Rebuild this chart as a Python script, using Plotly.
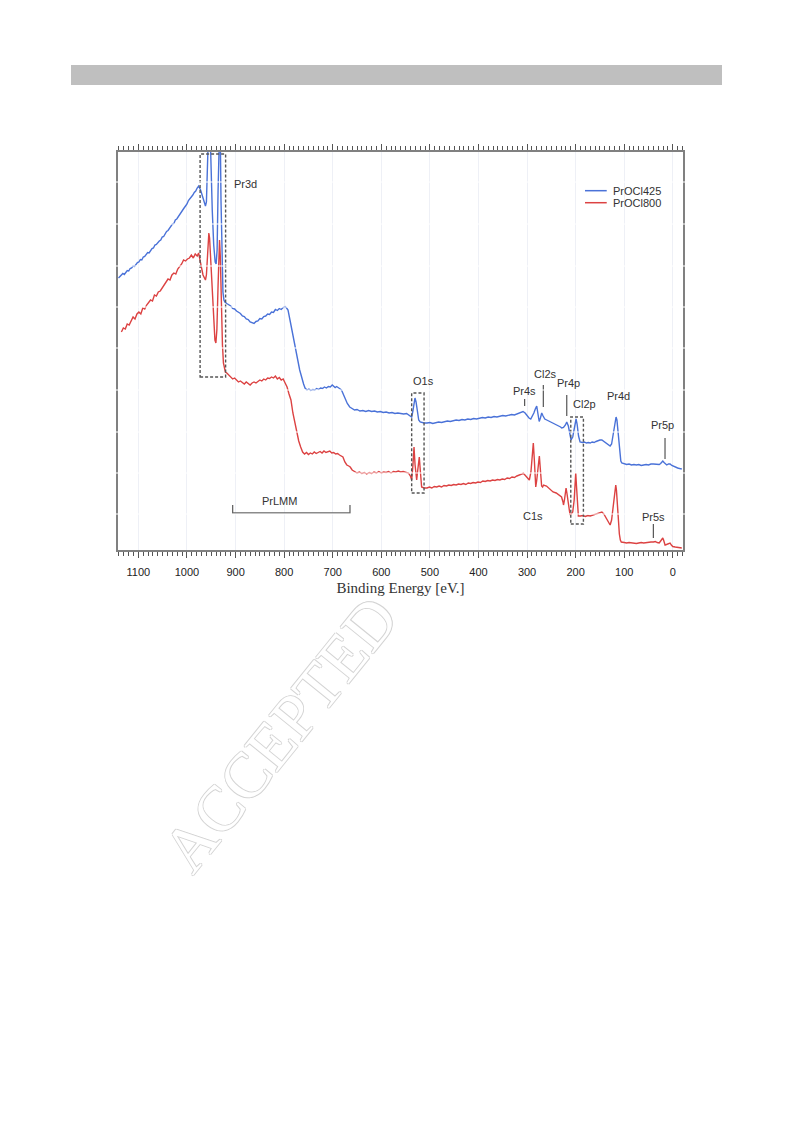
import plotly.graph_objects as go

# XPS survey spectra of the two PrOCl samples (binding energy in eV, intensity in arbitrary units)
be_425 = [1141, 1138, 1135, 1132, 1129, 1126, 1123, 1120, 1117, 1114, 1111, 1108, 1105, 1102, 1099,
          1096, 1093, 1090, 1087, 1084, 1081, 1078, 1075, 1072, 1069, 1066, 1063, 1060, 1057, 1054,
          1051, 1048, 1045, 1042, 1039, 1036, 1033, 1030, 1027, 1024, 1021, 1018, 1015, 1012, 1009,
          1006, 1003, 1000, 997, 994, 991, 988, 985, 982, 979, 976,
          972, 968, 965, 962, 960, 958, 956, 954.5, 953, 951, 948, 945, 942, 940, 938, 936, 934,
          932, 930, 928, 926, 924,
          922, 918, 914, 910, 906, 902, 898, 894, 890, 886, 882, 878, 874, 870, 866, 862, 858, 854,
          850, 846, 842, 838, 834, 830, 826, 822, 818, 814, 810, 806, 802, 798, 795, 792,
          788, 784, 780, 776, 772, 768, 764, 760, 757,
          753, 749, 745, 741, 737, 733, 729, 725, 721, 717, 713, 709, 705, 701, 698, 695, 692, 689,
          686, 682, 678, 674, 670, 665, 660, 655, 650,
          644, 638, 632, 626, 620, 614, 608, 602, 596, 590, 584, 578, 572, 566, 560, 554, 548, 544,
          540, 537.5, 535, 532.5, 530.7, 528.5, 526, 523, 520, 516.9, 512,
          506, 500, 494, 488, 482, 476, 470, 464, 458, 452, 446, 440, 434, 428, 422, 416, 410, 404,
          398, 392, 386, 380, 374, 368, 362, 356, 350, 344, 338, 332, 326, 320, 316, 312,
          308.3, 304, 300, 296, 292.4, 289, 286, 283, 280.1, 277.5, 275, 272.5, 269.8, 267, 263.5,
          259.5, 255, 250, 245, 240, 235, 231, 228.6, 225, 221, 218.3, 215, 212, 209.4, 206, 203,
          201, 199.1, 197, 194, 190.9, 186, 182, 178, 174, 170, 166, 162, 158, 154, 150, 146, 142,
          137, 133, 129, 126, 123, 120, 118, 116.8, 115, 113, 111, 109, 107, 105,
          100, 95, 90, 85, 80, 75, 70, 65, 60, 55, 50, 45, 40, 34, 28, 25, 22, 20.6, 18, 15, 12.4,
          9, 5.6, 2, -2, -6, -10, -14, -18.5]
int_425 = [272, 273.5, 274, 276.5, 275.5, 277.5, 279.5, 279, 281.5, 282, 284, 283.5, 286, 287.5, 288,
           290.5, 290, 293, 293.5, 295, 297.5, 297, 300, 301.5, 302, 305, 305.5, 308, 309, 310,
           313, 313.5, 316, 318.5, 319.5, 322, 323, 326, 326.5, 330, 331, 333.5, 335, 338, 339.5,
           342, 344, 346, 349.5, 351, 353.5, 355, 357.5, 359, 362, 364,
           360, 353, 347, 344, 348, 370, 410, 440, 430, 390, 340, 305, 288, 286, 300, 360, 440,
           440, 350, 290, 258, 250,
           248, 246.5, 245, 244, 241.5, 241, 239, 237.5, 236.5, 234, 233.5, 231, 230.5, 228, 227.5,
           226.5, 228.5, 229, 231.5, 231, 233.5, 234, 236, 235.5, 238, 237.5, 240.5, 239.5, 241.5,
           240.5, 242.5, 243.5, 242, 240,
           230, 219, 210, 200, 190, 180, 172, 166, 162,
           160, 161, 159.5, 160.5, 160, 161.5, 160.5, 162, 161.5, 163, 162, 163.5, 163, 165, 163.5,
           162.5, 163.5, 162, 161.5, 160, 155, 150, 146.5, 143, 141.5, 140, 140.5,
           139, 139.5, 138.5, 139.5, 138.5, 139, 138, 138.5, 137.5, 138, 137, 137.5, 136.5, 137,
           136.5, 136, 136.5, 135,
           134, 133, 139, 149, 152, 148, 138, 130, 128, 127.5, 127,
           127, 127.5, 126.5, 127.5, 128, 127.5, 128.5, 129, 128.5, 129.5, 130, 129.5, 130.5, 130,
           131, 130.5, 131.5, 131, 132, 132.5, 132, 133, 132.5, 133.5, 133, 134, 134.5, 134, 135,
           135.5, 135, 136, 136.5, 137.5,
           138.5, 137, 134, 132, 131, 134, 137, 141, 144, 136, 128.5, 132, 137, 134, 131,
           130, 129, 127.5, 126.5, 125.5, 124, 123, 122, 122.5, 125, 128, 124, 115, 110, 113, 122,
           129, 131, 126, 114, 108, 107.5, 108, 107, 107.5, 107, 108, 107.5, 108.5, 109.5, 110, 110,
           108.5, 107, 105.5, 104, 106, 115, 126, 132, 133, 130, 120, 105, 94, 89, 87,
           86, 85.5, 86, 85, 85.5, 85, 85.5, 84.5, 85, 85.5, 85, 86, 86, 86, 85.5, 86.5, 88.5, 89,
           87.5, 85.5, 85, 86, 86, 84.5, 83.5, 83, 82, 81.5, 81]

be_800 = [1135, 1131, 1127, 1123, 1119, 1115, 1111, 1107, 1103, 1099, 1095, 1091, 1087, 1083, 1079,
          1075, 1071, 1067, 1063, 1059, 1055, 1051, 1047, 1043, 1039, 1035, 1031, 1027, 1023, 1019,
          1015, 1011, 1007, 1003, 999, 995, 991, 987, 983, 979, 976,
          973, 970, 967, 964, 962, 960, 958, 956, 955, 953.5, 951, 948, 945, 942.5, 940.5, 938.5,
          936, 934, 933, 931.5, 929.5, 927, 925, 923, 921,
          918, 914, 910, 906, 902, 898, 894, 890, 886, 882, 878, 874, 870, 866, 862, 858, 854, 850,
          846, 842, 838, 834, 830, 826, 822, 818, 814, 810, 806, 802, 798,
          794, 790, 786, 782, 778, 774, 770, 766, 762,
          758, 754, 750, 746, 742, 738, 734, 730, 726, 722, 718, 714, 710, 706, 702, 698, 694, 690,
          686, 682, 679, 675, 671, 667, 664,
          660, 655, 650, 645, 640, 635, 630, 625, 620, 615, 610, 605, 600, 595, 590, 585, 580, 575,
          570, 565, 560, 555, 550, 544,
          540, 537.5, 535, 532.7, 530.5, 528.5, 527.2, 525, 521.8, 519.5, 517, 512,
          506, 501, 496, 491, 486, 481, 476, 471, 466, 461, 456, 451, 446, 441, 436, 431, 426, 421,
          416, 411, 406, 401, 396, 391, 386, 381, 376, 371, 366, 361, 356, 351, 346, 341, 336, 331,
          326, 321, 318, 314.5, 310,
          308, 304, 300, 297, 295.3, 292, 289, 287.1, 285, 283, 282.1, 280, 277, 274.7, 272.5, 270,
          268, 266, 260, 255, 250, 246.5, 240, 234, 229, 226, 225, 223, 221, 219.7, 218, 215, 213,
          211.5, 209, 206, 203, 201.5, 199.8, 198, 196, 194.4,
          190, 185, 180, 175, 170, 165, 160, 155, 150, 146, 142, 137, 133, 129, 126, 123, 120, 118,
          117.4, 116, 114, 112, 110, 108, 106,
          100, 95, 90, 85, 80, 75, 70, 65, 60, 55, 50, 45, 40, 36, 32, 28, 25, 22, 20.6, 19, 17,
          15.9, 13, 10, 7, 5.6, 3, 0, -5, -10, -15, -18.5]
int_800 = [218, 222, 221, 226, 225, 229, 233, 231, 236, 238, 236, 242, 241, 245, 247,
           250, 249, 255, 254, 258, 259, 262, 264, 268, 271, 270, 275, 277, 276, 281,
           283, 286, 290, 289, 291, 292, 295, 292, 296, 294, 297,
           291, 282, 275, 271, 270, 275, 290, 310, 317, 312, 290, 255, 225, 210, 207, 220,
           265, 305, 310, 295, 245, 205, 187, 180, 178,
           177, 175, 174, 171, 172, 170, 168, 169, 167, 166, 168, 166.5, 165, 167, 168, 167, 168.5,
           170, 169, 171, 170, 172, 171.5, 173, 172, 174, 171, 172.5, 170, 171, 167,
           163, 156, 150, 137, 127, 117, 109, 103, 98,
           96, 97.5, 95.5, 97, 96, 98, 96.5, 97.5, 98.5, 97, 99, 97.5, 98.5, 99, 97, 97.5, 96, 96.5,
           95, 94, 93, 88, 85, 84, 83,
           80, 78.5, 77, 78, 76.5, 77.5, 76, 77.5, 76.5, 78, 77, 78.5, 77, 78, 77.5, 78.5, 77, 78.5,
           78, 79, 78, 78.5, 78, 77,
           74, 70, 84, 103, 85, 72, 70, 80, 93, 78, 63, 62,
           62, 63, 62, 63.5, 63, 64, 63, 64.5, 64, 65, 64.5, 65.5, 65, 66, 65.5, 66.5, 65.5, 67,
           66.5, 67.5, 67, 68, 67.5, 69, 68.5, 69.5, 69, 70, 69.5, 70.5, 70, 71, 70.5, 72, 71.5, 73,
           72.5, 74, 74.5, 75, 76,
           77, 75, 73, 71, 70, 78, 95, 107, 90, 70, 63, 70, 85, 94, 80, 64,
           63, 65, 64, 62, 60, 58, 57, 55, 53, 48, 45, 50, 58, 62, 57, 46, 38,
           35, 36, 38, 50, 65, 77, 62, 42, 34,
           34, 34.5, 33.5, 34.5, 34, 35, 35.5, 36.5, 37.5, 38, 36, 32, 28, 25, 30, 42, 56, 64,
           65, 60, 45, 28, 16, 10, 8,
           7.5, 7, 7.5, 7, 7, 6.5, 7, 7.5, 7, 7.5, 7.5, 8, 8, 8.5, 7.5, 7, 9, 11, 12, 10, 6.5,
           5, 5.5, 6, 7, 7, 5, 3.5, 3, 2.5, 2, 2]

# Peak labels: (text, binding energy, intensity)
peak_labels = [("Pr3d", 880, 366), ("O1s", 514, 169), ("Pr4s", 306, 159), ("Cl2s", 262, 176),
               ("Pr4p", 215, 167), ("Cl2p", 181, 146), ("Pr4d", 111, 154), ("Pr5p", 22, 125),
               ("C1s", 288, 34), ("Pr5s", 40, 33), ("PrLMM", 809, 49)]
# Short marker lines under labels: (binding energy, intensity from, intensity to)
label_ticks = [(305, 151, 144), (266.5, 165, 143), (218.3, 155, 134), (16, 112, 91), (40, 26, 12)]
# Dashed boxes around peak groups: (BE high, BE low, intensity low, intensity high)
peak_boxes = [(973, 920.5, 173, 396), (537.5, 512, 57, 157), (210, 184, 26, 133)]
# PrLMM Auger range
lmm_range = (906, 664.5, 37, 45)

series_names = ["PrOCl425", "PrOCl800"]
series_colors = ["#4a72d8", "#dc4242"]

fig = go.Figure()
for be, inten, name, color in zip([be_425, be_800], [int_425, int_800], series_names, series_colors):
    fig.add_trace(go.Scatter(x=be, y=inten, mode="lines", name=name, showlegend=False,
                             line=dict(color=color, width=1.4)))

shapes = []
text_font = dict(family="Liberation Sans, Arial, sans-serif", size=11, color="#333333")
annotations = []
for text, xv, yv in peak_labels:
    annotations.append(dict(x=xv, y=yv, xref="x", yref="y", text=text, showarrow=False,
                            font=text_font, xanchor="center", yanchor="middle"))
for xv, y0, y1 in label_ticks:
    shapes.append(dict(type="line", xref="x", yref="y", x0=xv, x1=xv, y0=y0, y1=y1,
                       line=dict(color="#555555", width=1.2)))
for x0, x1, y0, y1 in peak_boxes:
    shapes.append(dict(type="rect", xref="x", yref="y", x0=x0, x1=x1, y0=y0, y1=y1,
                       line=dict(color="#555555", width=1.4, dash="3px,2px")))
lx0, lx1, ly0, ly1 = lmm_range
shapes.append(dict(type="path", xref="x", yref="y",
                   path=f"M {lx0},{ly1} L {lx0},{ly0} L {lx1},{ly0} L {lx1},{ly1}",
                   line=dict(color="#666666", width=1.3)))

# White horizontal rules across the plotting area
for yv in [36, 77, 118, 160, 202, 243, 284, 326, 368]:
    shapes.append(dict(type="line", xref="paper", yref="y", x0=-0.01, x1=1.01, y0=yv, y1=yv,
                       layer="above", line=dict(color="white", width=1)))

# Legend drawn as short line samples with labels
for i, (name, color) in enumerate(zip(series_names, series_colors)):
    yp = 0.9028 - i * 0.0302
    shapes.append(dict(type="line", xref="paper", yref="paper", x0=0.8265, x1=0.865, y0=yp, y1=yp,
                       line=dict(color=color, width=1.5)))
    annotations.append(dict(x=0.872, y=yp, xref="paper", yref="paper", text=name, showarrow=False,
                            xanchor="left", yanchor="middle",
                            font=dict(family="Liberation Sans, Arial, sans-serif", size=11,
                                      color="#333333")))

# Gray header band
shapes.append(dict(type="rect", xref="paper", yref="paper", x0=(71 - 118) / 565, x1=(722 - 118) / 565,
                   y0=(550 - 85) / 398, y1=(550 - 65) / 398, fillcolor="#bfbfbf",
                   line=dict(width=0)))

# Watermark
annotations.append(dict(x=0.288, y=-0.462, xref="paper", yref="paper", text="ACCEPTED",
                        showarrow=False, textangle=-51, xanchor="center", yanchor="middle",
                        font=dict(family="Liberation Serif, Times New Roman, serif", size=64,
                                  color="white",
                                  shadow="1px 0 #d4d4d4, -1px 0 #d4d4d4, 0 1px #d4d4d4, 0 -1px #d4d4d4")))

fig.update_layout(
    width=793, height=1123,
    margin=dict(l=118, r=110, t=152, b=573),
    paper_bgcolor="white", plot_bgcolor="white",
    shapes=shapes, annotations=annotations,
    xaxis=dict(range=[1142, -21], tick0=0, dtick=100, ticks="outside", ticklen=6, tickwidth=1,
               tickcolor="#555555", showline=True, linecolor="#808080", linewidth=2,
               mirror="ticks", showgrid=True, gridcolor="#eef0f6", gridwidth=1, zeroline=False,
               minor=dict(dtick=10, tick0=0, ticks="outside", ticklen=4, tickwidth=1,
                          tickcolor="#555555", showgrid=False),
               ticklabelstandoff=5,
               tickfont=dict(family="Liberation Sans, Arial, sans-serif", size=11, color="#222222"),
               title=dict(text="Binding Energy [eV.]", standoff=5,
                          font=dict(family="Liberation Serif, Times New Roman, serif", size=15,
                                    color="#333333"))),
    yaxis=dict(range=[0, 398], showticklabels=False, ticks="", showgrid=False, zeroline=False,
               showline=True, linecolor="#808080", linewidth=2, mirror=True),
)

fig.write_html("out.html")
